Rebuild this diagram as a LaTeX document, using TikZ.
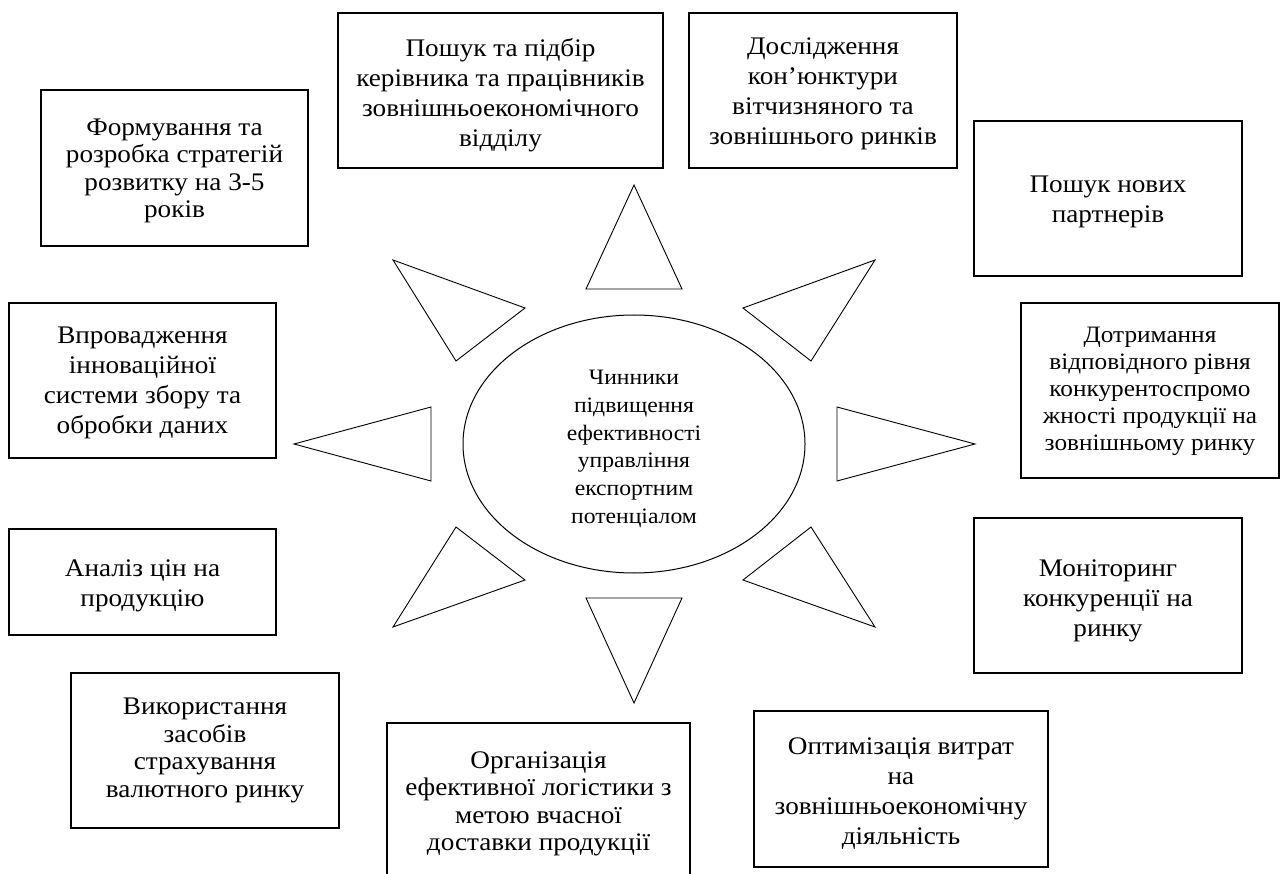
\documentclass[tikz,border=0pt]{standalone}
\usepackage{fontspec}
\setmainfont{Liberation Serif}[FakeStretch=1.075]
\usetikzlibrary{shapes.geometric}
\begin{document}
\begin{tikzpicture}[x=1pt,y=-1pt,
  box/.style={draw, line width=1.1pt, inner sep=0pt},
  txt/.style={inner sep=0pt, align=center},
  fA/.style={font=\fontsize{25.3}{30}\selectfont},
  fB/.style={font=\fontsize{25.3}{27.5}\selectfont},
  fC/.style={font=\fontsize{23.5}{27}\selectfont},
  ray/.style={draw, line width=0.9pt, line join=miter}]
\clip (0,0) rectangle (1280,874);
\fill[white] (0,0) rectangle (1280,874);
% centre
\node[ellipse, draw, line width=1pt, minimum width=342pt, minimum height=258pt, inner sep=0pt] (c) at (634,444) {};
\node[txt, font=\fontsize{22}{27.8}\selectfont] (cT) at ([yshift=-5pt]c.center)
  {Чинники\\підвищення\\ефективності\\управління\\експортним\\потенціалом};
% boxes
\node[box, minimum width=325pt, minimum height=155pt] (pidbir) at (500.5,90.5) {};
\node[txt, fA] (pidbirT) at ([yshift=-5pt]pidbir.center)
  {Пошук та підбір\\керівника та працівників\\зовнішньоекономічного\\відділу};
\node[box, minimum width=268pt, minimum height=155pt] (doslid) at (823,90.5) {};
\node[txt, fA] (doslidT) at ([yshift=-3pt]doslid.center)
  {Дослідження\\кон’юнктури\\вітчизняного та\\зовнішнього ринків};
\node[box, minimum width=267pt, minimum height=156pt] (formuv) at (174.5,168) {};
\node[txt, fB] (formuvT) at ([yshift=-3pt]formuv.center)
  {Формування та\\розробка стратегій\\розвитку на 3-5\\років};
\node[box, minimum width=268pt, minimum height=155pt] (partner) at (1108,198.5) {};
\node[txt, fA] (partnerT) at ([yshift=-3.5pt]partner.center)
  {Пошук нових\\партнерів};
\node[box, minimum width=267pt, minimum height=155pt] (vprov) at (142.5,380.5) {};
\node[txt, fA] (vprovT) at ([yshift=-2.5pt]vprov.center)
  {Впровадження\\інноваційної\\системи збору та\\обробки даних};
\node[box, minimum width=258pt, minimum height=175pt] (dotrym) at (1150,390.5) {};
\node[txt, fC] (dotrymT) at ([yshift=-1pt]dotrym.center)
  {Дотримання\\відповідного рівня\\конкурентоспромо\\жності продукції на\\зовнішньому ринку};
\node[box, minimum width=267pt, minimum height=106pt] (analiz) at (142.5,582) {};
\node[txt, fA] (analizT) at ([yshift=-4pt]analiz.center)
  {Аналіз цін на\\продукцію};
\node[box, minimum width=268pt, minimum height=155pt] (monitor) at (1108,595.5) {};
\node[txt, fA] (monitorT) at ([yshift=-5pt]monitor.center)
  {Моніторинг\\конкуренції на\\ринку};
\node[box, minimum width=268pt, minimum height=155pt] (vykor) at (205,750.5) {};
\node[txt, fB] (vykorT) at ([yshift=0pt]vykor.center)
  {Використання\\засобів\\страхування\\валютного ринку};
\node[box, minimum width=303pt, minimum height=158pt] (orgz) at (538.5,802) {};
\node[txt, fB] (orgzT) at ([yshift=-2pt]orgz.center)
  {Організація\\ефективної логістики з\\метою вчасної\\доставки продукції};
\node[box, minimum width=294pt, minimum height=156pt] (optym) at (901,789) {};
\node[txt, fA] (optymT) at ([yshift=-4.5pt]optym.center)
  {Оптимізація витрат\\на\\зовнішньоекономічну\\діяльність};
% rays
\draw[ray] (586,289) -- (682,289) -- (634,185) -- cycle;
\draw[ray] (743,308) -- (875,260) -- (811,361) -- cycle;
\draw[ray] (837,407) -- (975,444) -- (837,481) -- cycle;
\draw[ray] (811,527) -- (743,580) -- (875,627) -- cycle;
\draw[ray] (586,598) -- (682,598) -- (634,703) -- cycle;
\draw[ray] (456,527) -- (525,580) -- (393,627) -- cycle;
\draw[ray] (431,407) -- (294,444) -- (431,481) -- cycle;
\draw[ray] (393,260) -- (525,308) -- (456,361) -- cycle;
\end{tikzpicture}
\end{document}
